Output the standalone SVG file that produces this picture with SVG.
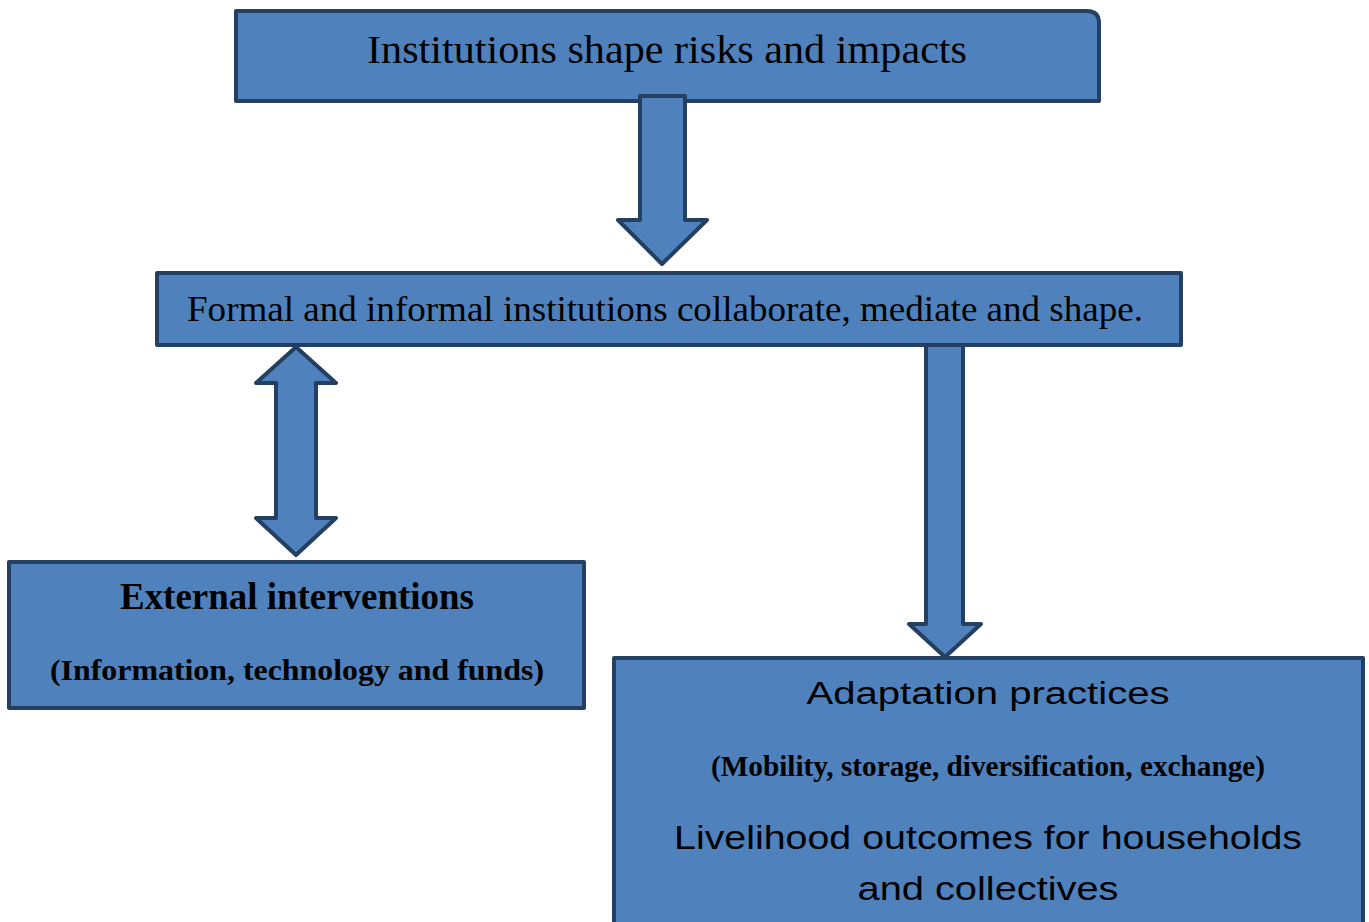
<svg xmlns="http://www.w3.org/2000/svg" width="1369" height="922" viewBox="0 0 1369 922">
<style>
.box{fill:#4F81BD;stroke:#243F60;stroke-width:4;stroke-linejoin:round}
.arr{fill:#4F81BD;stroke:#243F60;stroke-width:4;stroke-linejoin:round}
.serif{font-family:"Liberation Serif","Times New Roman",serif;fill:#000}
.sans{font-family:"Liberation Sans",Arial,sans-serif;fill:#000}
.b{font-weight:bold}
</style>
<rect width="1369" height="922" fill="#fff"/>
<g id="node-top">
<path class="box" d="M236,11 L1087,11 Q1099,11 1099,23 L1099,101 L236,101 Z"/>
<text class="serif" x="667" y="63" font-size="39" text-anchor="middle" textLength="600" lengthAdjust="spacingAndGlyphs">Institutions shape risks and impacts</text>
</g>
<g id="node-middle">
<rect class="box" x="157" y="273" width="1024" height="72"/>
<text class="serif" x="665" y="321" font-size="35" text-anchor="middle" textLength="956" lengthAdjust="spacingAndGlyphs">Formal and informal institutions collaborate, mediate and shape.</text>
</g>
<g id="node-external">
<rect class="box" x="9" y="562" width="575" height="146"/>
<text class="serif b" x="297" y="609" font-size="37" text-anchor="middle" textLength="354" lengthAdjust="spacingAndGlyphs">External interventions</text>
<text class="serif b" x="297" y="680" font-size="30" text-anchor="middle" textLength="494" lengthAdjust="spacingAndGlyphs">(Information, technology and funds)</text>
</g>
<g id="node-adaptation">
<rect class="box" x="614" y="658" width="749" height="280"/>
<text class="sans" x="988" y="704" font-size="31" text-anchor="middle" textLength="363" lengthAdjust="spacingAndGlyphs">Adaptation practices</text>
<text class="serif b" x="988" y="776" font-size="29" text-anchor="middle" textLength="554" lengthAdjust="spacingAndGlyphs">(Mobility, storage, diversification, exchange)</text>
<text class="sans" x="988" y="849" font-size="33" text-anchor="middle" textLength="628" lengthAdjust="spacingAndGlyphs">Livelihood outcomes for households</text>
<text class="sans" x="988" y="900" font-size="33" text-anchor="middle" textLength="261" lengthAdjust="spacingAndGlyphs">and collectives</text>
</g>
<g id="connectors">
<path class="arr" d="M640,96 L685,96 L685,220 L707,220 L662,264 L618,220 L640,220 Z"/>
<path class="arr" d="M296,347 L336,383 L316,383 L316,518 L336,518 L296,555 L256,518 L276,518 L276,383 L256,383 Z"/>
<path class="arr" d="M926,345 L963,345 L963,624 L981,624 L945,657 L909,624 L926,624 Z"/>
</g>
</svg>
